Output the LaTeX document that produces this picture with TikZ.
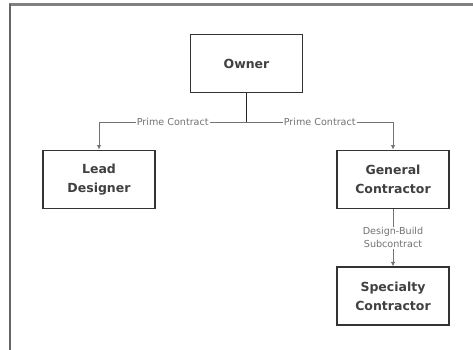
\documentclass[tikz,border=0pt]{standalone}
\usepackage{fontspec}
\setmainfont{DejaVu Sans}
\usetikzlibrary{arrows.meta,positioning}

\begin{document}
\begin{tikzpicture}[
  x=1pt, y=-1pt,
  node distance=57pt,
  box/.style={draw=black!80, line width=1.8pt, rectangle, minimum width=112pt, minimum height=58pt, align=center, font=\fontsize{12.5}{18.5}\selectfont\bfseries, text=black!75},
  arrow/.style={-{Latex[length=4.5pt,width=4.5pt]}, draw=black!55, line width=1pt},
  label/.style={font=\fontsize{9.6}{13}\selectfont, text=black!55, fill=white, inner sep=1pt, align=center}
]
  \useasboundingbox (0,0) rectangle (473,350);
  % frame
  \draw[black!50, line width=3pt] (9,5) -- (473,5);
  \draw[black!60, line width=2pt] (10,4) -- (10,350);

  \node[box] (owner) at (246.5,63.5) {Owner};
  \node[box] (lead) at (99,179.5) {Lead\\Designer};
  \node[box] (gc) at (393,179.5) {General\\Contractor};
  \node[box,below=of gc] (spec) {Specialty\\Contractor};

  \coordinate (split) at (246.5,122);

  \draw[black!85, line width=1.5pt] (owner.south) -- (split);
  \draw[arrow] (split) -| node[pos=0.25,label]{Prime Contract} (lead.north);
  \draw[arrow] (split) -| node[pos=0.25,label]{Prime Contract} (gc.north);
  \draw[arrow] (gc.south) -- node[label]{Design-Build\\Subcontract} (spec.north);
\end{tikzpicture}
\end{document}
